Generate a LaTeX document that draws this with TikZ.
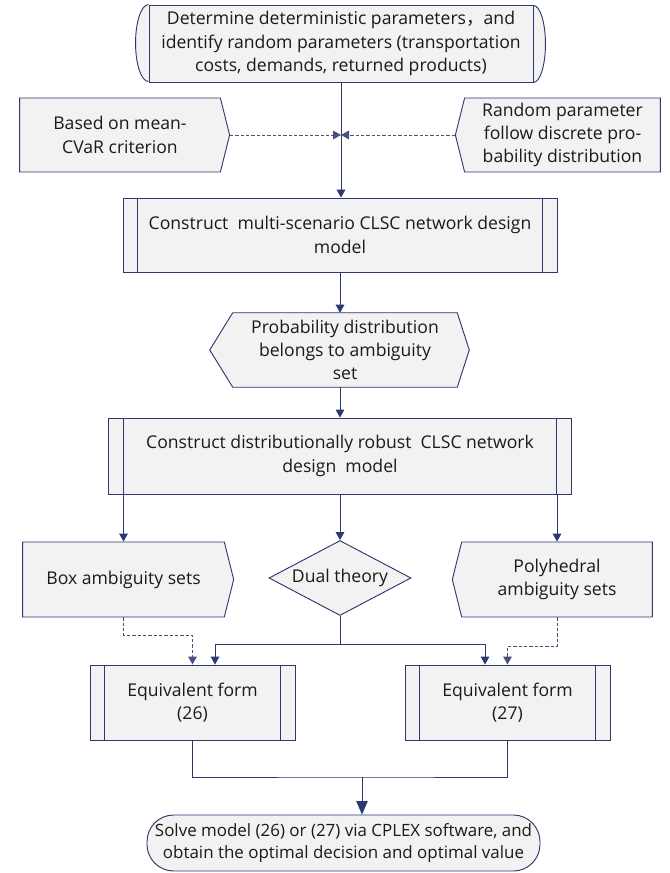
\documentclass[tikz,border=0pt]{standalone}
\usepackage{fontspec}
\setmainfont{Open Sans}
\newfontfamily\cjkfont{Noto Sans CJK SC}
\definecolor{edgec}{RGB}{46, 56, 110}
\definecolor{dashc}{RGB}{72, 80, 130}
\definecolor{boxfill}{RGB}{242, 242, 242}
\definecolor{txt}{RGB}{26, 26, 26}
\usetikzlibrary{shapes.geometric, shapes.symbols, arrows.meta, backgrounds, calc}

\begin{document}
\begin{tikzpicture}[
        x=0.75pt, y=-0.75pt,
        every node/.style={font=\fontsize{13.2pt}{17.5pt}\selectfont, align=center, text=txt},
        ln/.style={edgec, line width=0.7pt},
        boxy/.style={rectangle, draw=edgec, line width=0.7pt, fill=boxfill, inner sep=2pt},
        proc/.style={boxy, minimum height=55.5pt, path picture={
            \draw[ln] ([xshift=11pt]path picture bounding box.north west) -- ([xshift=11pt]path picture bounding box.south west);
            \draw[ln] ([xshift=-11pt]path picture bounding box.north east) -- ([xshift=-11pt]path picture bounding box.south east);}},
        sig/.style={signal, draw=edgec, line width=0.7pt, fill=boxfill, signal pointer angle=152, minimum height=55.5pt},
        dia/.style={diamond, draw=edgec, line width=0.7pt, fill=boxfill, inner sep=0pt, aspect=1.9, minimum width=106.5pt, minimum height=56.25pt},
        term/.style={boxy, rounded corners=20pt, minimum width=294.75pt, minimum height=42pt, font=\fontsize{12.7pt}{17pt}\selectfont},
        arr/.style={ln, -{Triangle[length=6pt, width=6.5pt]}},
        bigarr/.style={ln, -{Triangle[length=10pt, width=8.5pt]}},
        darr/.style={dashc, line width=0.7pt, dash pattern=on 2.5pt off 1.5pt, -{Triangle[length=6pt, width=6.5pt]}}
    ]
        \useasboundingbox (0,0) rectangle (669,873);

        % Nodes, top to bottom
        \node[boxy, minimum width=288pt, minimum height=57.75pt] (tb) at (341,43.5) {Determine deterministic parameters{\cjkfont ，}and\\ identify random parameters (transportation\\ costs, demands, returned products)};
        \node[sig, signal to=east, minimum width=157.5pt] (crit) at (120,135) {Based on mean-\\ CVaR criterion};
        \node[sig, signal to=west, minimum width=153.75pt] (rand) at (562.5,135) {Random parameter\\ follow discrete pro-\\ bability distribution};
        \node[proc, minimum width=325.5pt] (msm) at (340,235) {Construct~~multi-scenario CLSC network design\\ model};
        \node[rectangle, minimum width=168pt, minimum height=55.5pt, inner sep=0pt] (amb) at (345,350) {Probability distribution\\ belongs to ambiguity\\ set};
        \node[proc, minimum width=347.25pt, minimum height=57pt] (dro) at (340,456) {Construct distributionally robust~~CLSC network\\ design~~model};
        \node[sig, signal to=east, minimum width=158.25pt, minimum height=56.25pt] (box) at (123.5,579.5) {Box ambiguity sets};
        \node[dia] (dual) at (340,578) {Dual theory};
        \node[sig, signal to=west, minimum width=150pt, minimum height=56.25pt] (poly) at (557,579.5) {Polyhedral\\ ambiguity sets};
        \node[proc, minimum width=153.75pt, minimum height=56.25pt] (eqa) at (192.5,702.5) {Equivalent form\\ (26)};
        \node[proc, minimum width=153.75pt, minimum height=56.25pt] (eqb) at (507.5,702.5) {Equivalent form\\ (27)};
        \node[term] (solve) at (343.5,843) {Solve model (26) or (27) via CPLEX software, and\\ obtain the optimal decision and optimal value};

        % Outlines behind the nodes
        \begin{scope}[on background layer]
            \fill[boxfill] (tb.north west) arc[start angle=90, end angle=270, x radius=9.75pt, y radius=28.875pt] -- cycle;
            \fill[boxfill] (tb.south east) arc[start angle=-90, end angle=90, x radius=9pt, y radius=28.875pt] -- cycle;
            \draw[ln] (tb.north west) arc[start angle=90, end angle=270, x radius=9.75pt, y radius=28.875pt];
            \draw[ln] (tb.south east) arc[start angle=-90, end angle=90, x radius=9pt, y radius=28.875pt];
            \filldraw[ln, fill=boxfill] (amb.north west) -- (amb.north east) -- ([xshift=9pt]amb.east) -- (amb.south east) -- (amb.south west) -- ([xshift=-17.25pt]amb.west) -- cycle;
        \end{scope}

        % Arrows
        \coordinate (meet) at (tb.south |- crit.east);
        \draw[arr] (tb.south) -- (tb.south |- msm.north);
        \draw[darr] (crit.east) -- (meet);
        \draw[darr] (rand.west) -- (meet);
        \draw[arr] (msm.south) -- (msm.south |- amb.north);
        \draw[arr] (msm.south |- amb.south) -- (dro.north);
        \draw[arr] (box.north |- dro.south) -- (box.north);
        \draw[arr] (dual.north |- dro.south) -- (dual.north);
        \draw[arr] (poly.north |- dro.south) -- (poly.north);

        \draw[darr] (box.south) -- ++(0,18) -| (eqa.north);
        \draw[darr] (poly.south) -- ++(0,29) -| (eqb.north);

        \coordinate (split) at ($(dual.south)+(0,28)$);
        \draw[ln] (dual.south) -- (split);
        \draw[arr] (split) -| ($(eqa.north)+(22.5,0)$);
        \draw[arr] (split) -| ($(eqb.north)+(-22.5,0)$);

        \coordinate (join) at (362,777);
        \draw[ln] (eqa.south) |- (join) -| (eqb.south);
        \draw[bigarr] (join) -- (join |- solve.north);
    \end{tikzpicture}
\end{document}
